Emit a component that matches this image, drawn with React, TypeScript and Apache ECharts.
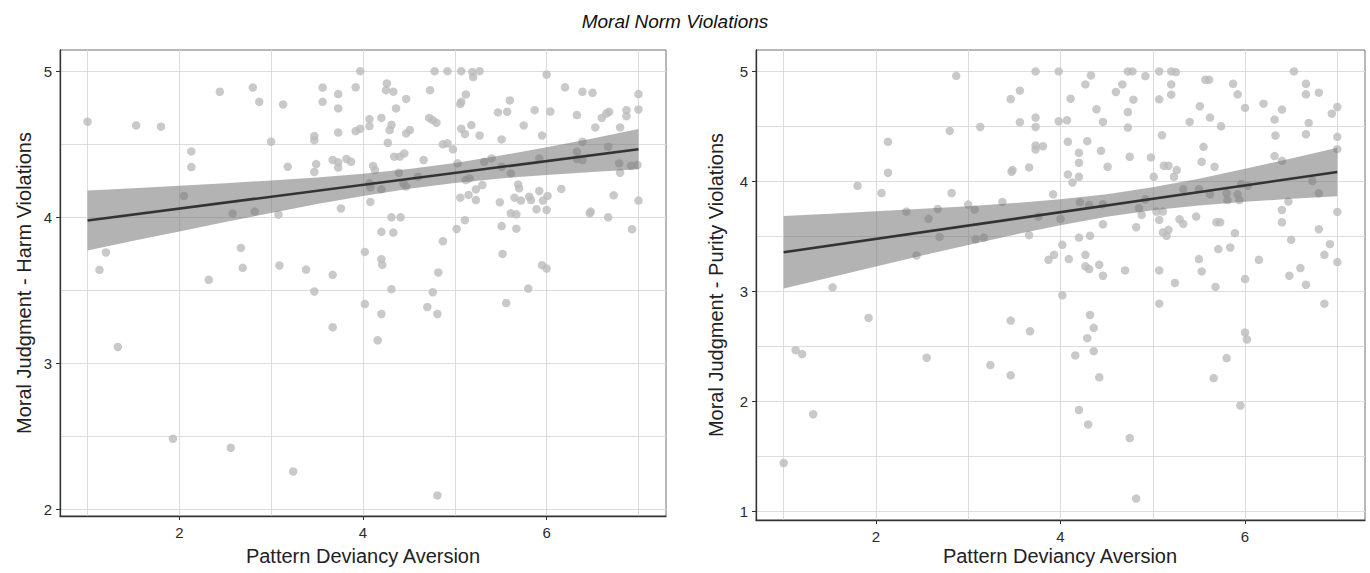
import React, { useEffect, useRef } from "react";
import * as echarts from "echarts";

const TITLE = "Moral Norm Violations";
const X_TITLE = "Pattern Deviancy Aversion";
const HARM_Y_TITLE = "Moral Judgment - Harm Violations";
const PURITY_Y_TITLE = "Moral Judgment - Purity Violations";

const xTickLabels = [2, 4, 6];
const xGridValues = [1, 2, 3, 4, 5, 6, 7];
const harmYTickLabels = [2, 3, 4, 5];
const harmYGridValues = [2, 2.5, 3, 3.5, 4, 4.5, 5];
const purityYTickLabels = [1, 2, 3, 4, 5];
const purityYGridValues = [1, 1.5, 2, 2.5, 3, 3.5, 4, 4.5, 5];

const harmPoints: [number, number][] = [
  [1.0, 4.654], [1.53, 4.629], [1.8, 4.62], [2.13, 4.451], [2.13, 4.344], [2.05, 4.146],
  [2.44, 4.859], [2.8, 4.888], [2.87, 4.79], [3.13, 4.772], [3.0, 4.517], [3.18, 4.346],
  [2.58, 4.025], [2.82, 4.039], [3.08, 4.018], [1.2, 3.759], [1.13, 3.64], [2.32, 3.572],
  [2.67, 3.79], [2.69, 3.654], [3.09, 3.67], [3.38, 3.642], [3.67, 3.606], [3.47, 3.492],
  [3.56, 4.888], [3.56, 4.79], [3.73, 4.843], [3.73, 4.745], [3.92, 4.89], [3.97, 5.0],
  [3.73, 4.58], [3.92, 4.59], [3.47, 4.556], [3.47, 4.528], [3.67, 4.392], [3.73, 4.376],
  [3.73, 4.34], [3.82, 4.399], [3.87, 4.38], [3.49, 4.364], [3.47, 4.31], [3.76, 4.06],
  [3.67, 3.247], [1.33, 3.112], [1.93, 2.484], [2.56, 2.422], [3.24, 2.26],
  [4.78, 5.0], [4.92, 5.0], [5.07, 5.0], [5.19, 4.995], [5.27, 5.0], [5.2, 4.96], [6.0, 4.977],
  [4.26, 4.916], [4.25, 4.87], [4.33, 4.86], [4.73, 4.87], [5.12, 4.84], [5.07, 4.79],
  [5.06, 4.775], [4.47, 4.81], [4.36, 4.745], [5.6, 4.8], [5.47, 4.718], [5.57, 4.722],
  [5.87, 4.733], [6.04, 4.724], [6.2, 4.89], [6.39, 4.859], [6.5, 4.852], [7.0, 4.843],
  [7.0, 4.738], [6.87, 4.733], [6.87, 4.692], [6.68, 4.722], [6.65, 4.71], [6.6, 4.68],
  [6.33, 4.7], [6.53, 4.615], [6.8, 4.615], [5.75, 4.629], [5.95, 4.56], [4.2, 4.68],
  [4.07, 4.672], [4.07, 4.624], [4.31, 4.633], [4.29, 4.597], [4.51, 4.597], [4.47, 4.574],
  [4.72, 4.68], [4.76, 4.665], [4.8, 4.647], [5.07, 4.606], [5.11, 4.57], [5.18, 4.631],
  [5.27, 4.56], [5.51, 4.533], [3.97, 4.606], [4.27, 4.51], [4.87, 4.499], [4.92, 4.506],
  [4.98, 4.465], [4.34, 4.415], [4.4, 4.415], [4.45, 4.437], [4.66, 4.392], [4.11, 4.351],
  [4.13, 4.323], [4.39, 4.305], [4.6, 4.278], [5.03, 4.369], [5.32, 4.38], [5.4, 4.403],
  [5.51, 4.346], [5.61, 4.3], [5.92, 4.403], [6.33, 4.449], [6.33, 4.399], [6.39, 4.392],
  [6.39, 4.517], [6.67, 4.483], [6.79, 4.369], [6.8, 4.305], [6.92, 4.353], [6.99, 4.358],
  [4.07, 4.232], [4.08, 4.205], [4.2, 4.191], [4.44, 4.232], [4.47, 4.21], [5.12, 4.255],
  [5.16, 4.266], [5.23, 4.191], [5.3, 4.221], [5.06, 4.134], [5.15, 4.153], [5.23, 4.118],
  [5.69, 4.225], [5.7, 4.198], [6.16, 4.194], [5.65, 4.134], [5.72, 4.114], [5.81, 4.141],
  [5.83, 4.118], [5.92, 4.18], [6.01, 4.146], [5.96, 4.114], [5.89, 4.055], [6.0, 4.05],
  [6.73, 4.15], [7.0, 4.114], [4.08, 4.105], [5.49, 4.103], [5.61, 4.027], [5.67, 4.02],
  [4.31, 4.0], [4.41, 4.0], [6.47, 4.027], [6.48, 4.039], [6.67, 4.0], [4.2, 3.9],
  [4.33, 3.895], [5.02, 3.92], [5.11, 3.98], [5.51, 3.94], [5.67, 3.922], [6.93, 3.918],
  [4.02, 3.763], [4.87, 3.836], [5.52, 3.749], [4.2, 3.713], [4.21, 3.674], [4.82, 3.622],
  [5.95, 3.672], [6.0, 3.649], [4.31, 3.508], [4.76, 3.487], [5.8, 3.512],
  [4.02, 3.406], [4.2, 3.338], [4.7, 3.386], [4.81, 3.338], [4.16, 3.158], [5.56, 3.413],
  [4.81, 2.096],
];

const purityPoints: [number, number][] = [
  [2.87, 4.96], [2.13, 4.36], [2.13, 4.079], [1.8, 3.96], [2.06, 3.894], [2.8, 4.459],
  [3.13, 4.495], [2.82, 3.894], [2.33, 3.725], [2.57, 3.659], [2.67, 3.749], [2.69, 3.495],
  [2.44, 3.326], [3.0, 3.789], [3.07, 3.743], [3.08, 3.474], [3.17, 3.489], [3.37, 3.813],
  [1.53, 3.036], [3.46, 4.749], [3.56, 4.825], [3.56, 4.538], [3.47, 4.088], [3.48, 4.103],
  [3.66, 4.127], [3.66, 3.511], [3.73, 5.0], [3.73, 4.58], [3.73, 4.495], [3.73, 4.326],
  [3.73, 4.29], [3.76, 3.68],
  [1.92, 2.758], [1.13, 2.465], [1.2, 2.429], [1.32, 1.882], [1.0, 1.438], [2.55, 2.396],
  [3.24, 2.329], [3.46, 2.734], [3.67, 2.637], [3.46, 2.236],
  [3.98, 5.0], [4.33, 4.964], [4.27, 4.882], [4.11, 4.752], [4.39, 4.656], [4.46, 4.541],
  [4.73, 5.0], [4.78, 5.0], [4.92, 4.958], [4.67, 4.882], [4.6, 4.813], [4.79, 4.743],
  [4.73, 4.631], [4.73, 4.489], [5.07, 5.0], [5.2, 5.0], [5.25, 4.994], [5.2, 4.882],
  [5.2, 4.789], [5.07, 4.746], [3.98, 4.547], [4.07, 4.556], [4.08, 4.36], [4.29, 4.366],
  [4.2, 4.26], [4.2, 4.169], [4.44, 4.278], [4.51, 4.133], [3.81, 4.32], [4.08, 4.063],
  [4.13, 3.99], [4.2, 4.042], [3.92, 3.882], [4.21, 3.81], [4.31, 3.785], [4.0, 3.659],
  [4.46, 3.792], [4.46, 3.61], [4.2, 3.489], [4.32, 3.505], [4.02, 3.423], [3.87, 3.287],
  [3.93, 3.332], [4.09, 3.293], [4.27, 3.332], [4.27, 3.227], [4.31, 3.202], [4.42, 3.242],
  [4.46, 3.142], [4.7, 3.19], [4.02, 2.964], [4.75, 4.224], [4.98, 4.218], [5.1, 4.42],
  [5.01, 4.042], [5.12, 4.142], [5.17, 4.142], [5.26, 4.103], [5.23, 4.042], [4.85, 3.755],
  [4.88, 3.695], [4.82, 3.583], [4.92, 3.837], [5.04, 3.725], [5.11, 3.725], [5.07, 3.65],
  [5.11, 3.535], [5.17, 3.559], [5.15, 3.505], [5.07, 3.19], [5.24, 3.076], [5.29, 3.656],
  [5.33, 3.613], [5.47, 3.68], [5.33, 3.93], [5.5, 3.93], [5.62, 3.882], [5.51, 4.683],
  [5.4, 4.541], [5.62, 4.58], [5.74, 4.501], [5.57, 4.924], [5.61, 4.924], [5.87, 4.888],
  [5.92, 4.792], [6.0, 4.668], [5.55, 4.314], [5.53, 4.178], [5.67, 4.133], [5.69, 3.628],
  [5.73, 3.628], [5.89, 3.529], [5.71, 3.384], [5.84, 3.399], [5.5, 3.293], [5.53, 3.181],
  [5.68, 3.04], [5.8, 3.891], [5.81, 3.83], [5.92, 3.882], [5.94, 3.83], [5.96, 3.976],
  [6.03, 3.96], [6.0, 3.112], [6.15, 3.287], [6.2, 4.707], [6.32, 4.562], [6.4, 4.653],
  [6.33, 4.417], [6.32, 4.23], [6.4, 4.187], [6.53, 5.0], [6.66, 4.888], [6.66, 4.792],
  [6.8, 4.807], [6.69, 4.532], [6.66, 4.429], [6.94, 4.616], [7.0, 4.677], [7.0, 4.405],
  [7.0, 4.293], [6.73, 4.003], [6.8, 3.891], [6.47, 3.816], [6.4, 3.74], [6.4, 3.628],
  [7.0, 3.722], [6.8, 3.565], [6.5, 3.468], [6.92, 3.429], [6.86, 3.332], [7.0, 3.266],
  [6.48, 3.142], [6.6, 3.211], [6.66, 3.06],
  [5.07, 2.888], [6.86, 2.888], [4.32, 2.785], [4.36, 2.668], [4.29, 2.574], [4.36, 2.456],
  [4.16, 2.417], [4.42, 2.218], [4.2, 1.921], [4.3, 1.789], [4.75, 1.665], [4.82, 1.115],
  [6.0, 2.625], [6.02, 2.562], [5.8, 2.393], [5.66, 2.211], [5.95, 1.961],
];

// regression line end points and confidence band
const fitLineX = [1, 7];
const harmFitY = [3.978, 4.466];
const purityFitY = [3.355, 4.085];

const bandX = [1, 1.5, 2, 2.5, 3, 3.5, 4, 4.5, 5, 5.5, 6, 6.5, 7];
const harmUpper = [4.183, 4.199, 4.215, 4.233, 4.252, 4.272, 4.298, 4.33, 4.371, 4.423, 4.48, 4.54, 4.604];
const harmLower = [3.773, 3.839, 3.903, 3.967, 4.03, 4.09, 4.146, 4.196, 4.235, 4.266, 4.29, 4.31, 4.329];
const purityUpper = [3.685, 3.706, 3.728, 3.75, 3.774, 3.803, 3.838, 3.884, 3.947, 4.025, 4.114, 4.207, 4.305];
const purityLower = [3.025, 3.126, 3.226, 3.326, 3.422, 3.515, 3.602, 3.678, 3.737, 3.781, 3.814, 3.841, 3.865];

const FONT = '"Liberation Sans", Arial, Helvetica, sans-serif';
const GRID_COLOR = "#dcdcdc";
const AXIS_COLOR = "#333333";
const LABEL_COLOR = "#2b2b2b";

function gridAxis(dim: "x" | "y", gridIndex: number, min: number, max: number, values: number[]) {
  return {
    type: "value",
    gridIndex,
    min,
    max,
    position: dim === "x" ? "bottom" : "left",
    axisLine: { show: false, onZero: false },
    axisTick: { show: false, customValues: values },
    axisLabel: { show: false },
    splitLine: { show: true, lineStyle: { color: GRID_COLOR, width: 1 } },
    z: 0,
  };
}

function labelAxis(dim: "x" | "y", gridIndex: number, min: number, max: number, values: number[]) {
  return {
    type: "value",
    gridIndex,
    min,
    max,
    position: dim === "x" ? "bottom" : "left",
    axisLine: { show: true, onZero: false, lineStyle: { color: AXIS_COLOR, width: 1.3 } },
    axisTick: { show: true, length: 4, customValues: values, lineStyle: { color: AXIS_COLOR, width: 1 } },
    axisLabel: {
      show: true,
      customValues: values,
      color: LABEL_COLOR,
      fontSize: 15,
      fontFamily: FONT,
      margin: dim === "x" ? 9 : 8,
    },
    splitLine: { show: false },
  };
}

function bandSeries(axisIndex: number, xs: number[], lo: number[], hi: number[]) {
  return {
    type: "custom",
    xAxisIndex: axisIndex,
    yAxisIndex: axisIndex,
    silent: true,
    z: 3,
    data: xs.map((x, i) => [x, lo[i], hi[i]]),
    encode: { x: 0, y: [1, 2] },
    renderItem: (params: any, api: any) => {
      if (params.dataIndex !== 0) return null;
      const pts: number[][] = [];
      for (let i = 0; i < xs.length; i++) pts.push(api.coord([xs[i], hi[i]]));
      for (let i = xs.length - 1; i >= 0; i--) pts.push(api.coord([xs[i], lo[i]]));
      return {
        type: "polygon",
        shape: { points: pts },
        style: { fill: "rgba(110,110,110,0.52)" },
      };
    },
  };
}

export default function App() {
  const ref = useRef<HTMLDivElement>(null);

  useEffect(() => {
    if (!ref.current) return;
    const chart = echarts.init(ref.current, undefined, { renderer: "svg" });

    const option: any = {
      animation: false,
      backgroundColor: "#ffffff",
      grid: [
        { left: 60, top: 50, width: 606, height: 466, show: true, borderColor: "#707070", borderWidth: 1, backgroundColor: "transparent" },
        { left: 756, top: 50, width: 609, height: 470, show: true, borderColor: "#707070", borderWidth: 1, backgroundColor: "transparent" },
      ],
      xAxis: [
        gridAxis("x", 0, 0.7, 7.3, xGridValues),
        labelAxis("x", 0, 0.7, 7.3, xTickLabels),
        gridAxis("x", 1, 0.7, 7.3, xGridValues),
        labelAxis("x", 1, 0.7, 7.3, xTickLabels),
      ],
      yAxis: [
        gridAxis("y", 0, 1.955, 5.145, harmYGridValues),
        labelAxis("y", 0, 1.955, 5.145, harmYTickLabels),
        gridAxis("y", 1, 0.92, 5.195, purityYGridValues),
        labelAxis("y", 1, 0.92, 5.195, purityYTickLabels),
      ],
      series: [
        {
          type: "scatter",
          xAxisIndex: 1,
          yAxisIndex: 1,
          data: harmPoints,
          symbolSize: 8.5,
          itemStyle: { color: "#bbbbbb" },
          z: 2,
        },
        bandSeries(1, bandX, harmLower, harmUpper),
        {
          type: "line",
          xAxisIndex: 1,
          yAxisIndex: 1,
          data: fitLineX.map((x, i) => [x, harmFitY[i]]),
          showSymbol: false,
          lineStyle: { color: "#333333", width: 2.6 },
          z: 4,
        },
        {
          type: "scatter",
          xAxisIndex: 3,
          yAxisIndex: 3,
          data: purityPoints,
          symbolSize: 8.5,
          itemStyle: { color: "#bbbbbb" },
          z: 2,
        },
        bandSeries(3, bandX, purityLower, purityUpper),
        {
          type: "line",
          xAxisIndex: 3,
          yAxisIndex: 3,
          data: fitLineX.map((x, i) => [x, purityFitY[i]]),
          showSymbol: false,
          lineStyle: { color: "#333333", width: 2.6 },
          z: 4,
        },
      ],
      graphic: [
        {
          type: "text",
          x: 675,
          y: 21,
          style: { text: TITLE, font: `italic 19px ${FONT}`, fill: "#111", textAlign: "center", textVerticalAlign: "middle" },
        },
        {
          type: "text",
          x: 363,
          y: 556,
          style: { text: X_TITLE, font: `20px ${FONT}`, fill: "#222", textAlign: "center", textVerticalAlign: "middle" },
        },
        {
          type: "text",
          x: 1060,
          y: 556,
          style: { text: X_TITLE, font: `20px ${FONT}`, fill: "#222", textAlign: "center", textVerticalAlign: "middle" },
        },
        {
          type: "text",
          x: 24,
          y: 283,
          rotation: Math.PI / 2,
          style: { text: HARM_Y_TITLE, font: `20px ${FONT}`, fill: "#222", textAlign: "center", textVerticalAlign: "middle" },
        },
        {
          type: "text",
          x: 716,
          y: 285,
          rotation: Math.PI / 2,
          style: { text: PURITY_Y_TITLE, font: `20px ${FONT}`, fill: "#222", textAlign: "center", textVerticalAlign: "middle" },
        },
      ],
    };

    chart.setOption(option);
    return () => chart.dispose();
  }, []);

  return (
    <div
      ref={ref}
      style={{ position: "fixed", left: 0, top: 0, width: 1370, height: 573, background: "#fff" }}
    />
  );
}
